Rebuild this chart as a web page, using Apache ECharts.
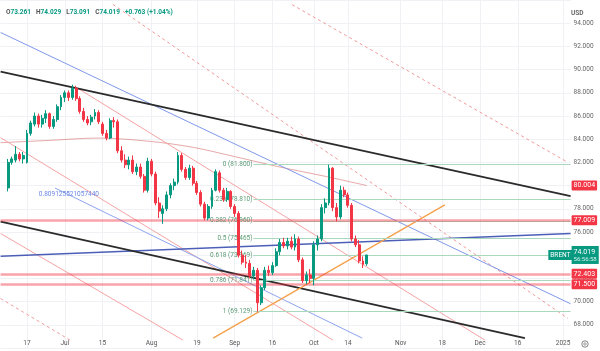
<!DOCTYPE html>
<html><head><meta charset="utf-8">
<script src="https://cdn.jsdelivr.net/npm/echarts@6/dist/echarts.min.js"></script>
<style>html,body{margin:0;padding:0;background:#fff}#c{width:600px;height:351px}</style>
</head><body><div id="c"></div>
<script>
// ---------- data ----------
const firstCategory = '2024-06-06';   // first weekday slot on the axis
const categoryCount = 152;
const firstCandle = '2024-06-10';
// [open, high, low, close]
const ohlc = [
[79.8,82.3,79.5,82.0],[82.0,82.5,81.8,82.3],[82.2,83.4,82.0,82.7],[82.7,82.9,82.1,82.3],[82.3,82.9,81.9,82.6],
[82.0,84.8,81.9,84.5],[84.5,85.6,84.3,85.4],[85.3,86.3,85.1,86.0],[86.0,86.2,85.0,85.3],[85.3,86.1,85.0,85.8],
[85.8,86.5,85.4,86.2],[86.2,86.3,84.9,85.1],[85.1,86.0,84.9,85.7],[85.7,87.0,85.5,86.8],[86.8,87.8,86.5,87.6],
[87.6,88.2,87.2,88.0],[88.0,88.2,87.3,87.6],[87.6,88.7,87.4,88.4],[88.4,88.6,87.3,87.5],[87.5,87.7,86.2,86.4],
[86.4,86.7,85.5,85.7],[85.7,86.0,85.2,85.4],[85.5,86.1,85.2,85.9],[86.0,86.6,85.7,86.3],[86.3,86.5,85.3,85.5],
[85.3,85.5,84.3,84.5],[84.5,84.8,83.9,84.1],[84.1,85.8,84.0,85.6],[85.6,85.9,85.0,85.5],[85.5,85.7,82.8,83.0],
[83.0,83.4,82.0,82.2],[82.2,82.7,81.5,81.8],[81.8,82.5,81.4,82.2],[82.2,82.6,81.0,81.2],[81.2,81.9,80.9,81.6],
[81.6,81.9,80.6,80.8],[80.8,81.0,79.4,79.6],[79.6,82.4,79.4,82.1],[82.1,82.3,80.8,81.0],[81.0,81.2,78.3,78.5],
[78.5,79.0,77.2,77.8],[77.6,78.3,76.7,78.0],[78.0,79.5,77.8,79.2],[79.2,80.2,78.9,80.0],[80.0,80.6,79.6,80.3],
[80.3,82.9,80.1,82.6],[82.6,82.8,81.2,81.4],[81.4,81.6,80.5,80.7],[80.7,81.8,80.5,81.5],[81.5,81.7,80.0,80.2],
[80.2,80.4,79.2,79.4],[79.4,79.6,78.2,78.4],[78.4,78.6,77.0,77.2],[77.2,78.4,77.0,78.2],[78.2,79.8,78.0,79.6],
[79.6,81.4,79.5,81.2],[81.1,81.3,79.4,79.6],[79.6,79.8,78.6,78.8],[78.8,79.8,78.6,79.5],[79.5,79.6,78.0,78.2],
[78.2,78.4,77.3,77.6],[77.6,77.8,73.8,74.0],[74.0,74.4,73.2,73.4],[73.4,74.0,72.9,73.3],[73.3,73.6,72.0,72.2],
[72.2,73.0,71.9,72.7],[72.7,72.9,69.129,69.9],[69.9,71.4,69.7,71.2],[71.2,73.0,71.0,72.7],[72.7,73.1,72.2,72.5],
[72.5,73.4,72.3,73.1],[73.1,74.6,73.0,74.3],[74.3,75.4,74.0,75.1],[75.1,75.5,74.6,74.8],[74.8,75.5,74.5,75.2],
[75.2,75.6,74.5,74.7],[74.7,75.8,74.4,75.4],[75.4,75.6,73.4,73.6],[73.6,73.8,71.6,71.8],[71.8,72.6,71.5,72.3],
[72.3,72.8,71.6,72.0],[72.0,75.2,71.4,74.9],[74.9,75.7,74.4,75.4],[75.4,78.4,75.2,78.1],[78.1,78.9,77.6,78.5],
[78.5,81.8,78.3,81.5],[81.5,81.6,77.8,78.1],[78.1,78.5,76.9,77.3],[77.3,80.0,77.1,79.6],[79.6,79.9,79.0,79.2],
[79.2,79.4,78.1,78.3],[78.3,78.5,75.2,75.4],[75.4,75.7,74.7,74.9],[74.9,75.3,73.3,73.5],[73.5,73.9,72.9,73.2],
[73.261,74.029,73.091,74.019]
];
// moving average samples [slot, price]
const maLine = [[0,83.7],[13,83.9],[26,84.1],[40,83.8],[51,83.3],[62,82.5],[74,81.6],[86,80.8],[97,80.004]];
// drawn trend lines: [slot, price] endpoints
const blackTop = [[0,89.83],[151,79.1]];
const blackBottom = [[0,76.9],[138.9,66.85]];
const blueFlat = [[0,73.91],[151,75.87]];
const blueUpper = [[0,93.2],[151,69.81]];
const blueLower = [[14.4,79.79],[95.8,66.85]];
const orangeRay = [[56.3,66.85],[117.7,78.34]];
const pinkSolid1 = [[20.5,88.38],[128.3,66.68]];
const pinkSolid2 = [[0,84.13],[88.05,66.68]];
const pinkSolid3 = [[0,75.87],[48.3,66.68]];
const pinkDash1 = [[29.77,95.62],[150.3,68.55]];
const pinkDash2 = [[77.2,95.6],[150.3,82.0]];
const pinkDash3 = [[0,70.26],[18.4,66.68]];
// horizontal levels
const redLevels = [77.009, 72.403, 71.500];
const maLast = 80.004;
const lastPrice = 74.019;
const countdown = '56:56:58';
// fibonacci retracement
const fibRatios = ['0','0.236','0.382','0.5','0.618','0.786','1'];
const fibValues = [81.800, 78.810, 76.960, 75.465, 73.969, 71.841, 69.129];
const fibStartSlot = 67;
const blueNote = {slot:18.1, price:79.28, text:'0.809125521057440'};
const xLabels = {'2024-06-17':'17','2024-07-01':'Jul','2024-07-15':'15','2024-08-01':'Aug','2024-08-19':'19',
 '2024-09-02':'Sep','2024-09-16':'16','2024-10-01':'Oct','2024-10-14':'14','2024-11-01':'Nov','2024-11-18':'18',
 '2024-12-02':'Dec','2024-12-16':'16','2025-01-01':'2025'};
const header = {O:'73.261',H:'74.029',L:'73.091',C:'74.019',chg:'+0.763 (+1.04%)'};
const priceMin = 66, priceMax = 96, priceStep = 2;

// ---------- build ----------
function fmt(d){return d.toISOString().slice(0,10);}
const cats = [];
let d = new Date(firstCategory+'T00:00:00Z');
while (cats.length < categoryCount) { const w=d.getUTCDay(); if (w!==0&&w!==6) cats.push(fmt(d)); d.setUTCDate(d.getUTCDate()+1); }
const c0 = cats.indexOf(firstCandle);
const candleData = cats.map((c,i)=>{ const r = ohlc[i-c0]; return r ? [r[0],r[3],r[2],r[1]] : '-'; });

const GREEN='#089981', RED='#f23645';
const FONT='Roboto, "Noto Sans", sans-serif';
const isLbl = (i,v)=> xLabels[v]!==undefined;
const NONE='rgba(0,0,0,0)';

function seg(data, color, width, type){
  return {type:'line', xAxisIndex:1, yAxisIndex:0, data, symbol:'none', silent:true, clip:true,
    lineStyle:{color, width, type:type||'solid'}, z:3, animation:false};
}
const series = [];
series.push(seg(maLine,'rgba(214,110,110,0.6)',1));
series[0].smooth = 0.3;
series.push(seg(pinkSolid1,'#f5a3a3',1));
series.push(seg(pinkSolid2,'#f5a3a3',1));
series.push(seg(pinkSolid3,'#f5a3a3',1));
series.push(seg(pinkDash1,'#f19a9a',1,[3,3]));
series.push(seg(pinkDash2,'#f19a9a',1,[3,3]));
series.push(seg(pinkDash3,'#f19a9a',1,[3,3]));
series.push(seg(blueUpper,'#7f98ea',1));
series.push(seg(blueLower,'#8ea5f0',1));
series.push(seg(blueFlat,'#4c5fb8',1.3));
series.push(seg(blackTop,'#2b2b2b',1.8));
series.push(seg(blackBottom,'#2b2b2b',1.8));
series.push(seg(orangeRay,'#f5a04a',1.3));

// fib lines
series.push({type:'line', xAxisIndex:1, yAxisIndex:0, data:[], symbol:'none', animation:false,
  markLine:{silent:true, symbol:'none', animation:false,
    data: fibValues.map((v,i)=>[
      {coord:[fibStartSlot,v], lineStyle:{color:'#a9d8bc',width:1,type:'solid'},
       label:{show:true, position:'start', distance:1, formatter: fibRatios[i]+' ('+v.toFixed(3)+')',
         color:'#5b9a74', fontSize:6.5, fontFamily:FONT, padding:[0,0,9,0]}},
      {coord:[151,v]}])
  }});
// red horizontal levels + right labels
const rightLbl = (txt,bg)=>({show:true, position:'end', distance:1, formatter:txt, color:'#fff', backgroundColor:bg,
   fontSize:7, fontFamily:FONT, padding:[2,2,1,2], borderRadius:1});
series.push({type:'line', xAxisIndex:1, yAxisIndex:0, data:[], symbol:'none', animation:false,
  markLine:{silent:true, symbol:'none', animation:false, data:[
    ...redLevels.map(v=>({yAxis:v, lineStyle:{color:'rgba(242,54,69,0.45)',width:2.5,type:'solid'}, label:rightLbl(v.toFixed(3),RED)})),
    {yAxis:maLast, lineStyle:{color:NONE,width:0}, label:rightLbl(maLast.toFixed(3),RED)},
    {yAxis:lastPrice, lineStyle:{color:NONE,width:0}, label:{show:true, position:'end', distance:1,
       formatter:'{p|'+lastPrice.toFixed(3)+'}\n{t|'+countdown+'}', backgroundColor:GREEN, padding:[2,2,1,2],
       rich:{p:{color:'#fff',fontSize:7,fontFamily:FONT,lineHeight:8},t:{color:'#d6f2ea',fontSize:6,fontFamily:FONT,lineHeight:7}}}}
  ]},
  markPoint:{silent:true, animation:false, symbolSize:0, data:[
    {coord:[148.3,lastPrice], label:{show:true, position:'inside', formatter:'BRENT', color:'#fff', backgroundColor:GREEN,
       fontSize:6.5, fontFamily:FONT, padding:[2,2,1,2]}},
    {coord:[blueNote.slot,blueNote.price], label:{show:true, position:'inside', formatter:blueNote.text, color:'#6a86e6',
       fontSize:6.5, fontFamily:FONT}}
  ]}
});
// candles
series.push({type:'candlestick', xAxisIndex:0, yAxisIndex:0, data:candleData, barWidth:'64%', z:5, animation:false,
  itemStyle:{color:GREEN, color0:RED, borderColor:GREEN, borderColor0:RED, borderWidth:1}});

const option = {
  animation:false,
  backgroundColor:'#fff',
  title:[{left:6, top:3, padding:0, text:'{k|O}{v|'+header.O+'} {k|H}{v|'+header.H+'} {k|L}{v|'+header.L+'} {k|C}{v|'+header.C+'} {v|'+header.chg+'}',
     textStyle:{rich:{k:{color:'#555',fontSize:6.5,fontFamily:FONT},v:{color:GREEN,fontSize:6.5,fontFamily:FONT}}}},
     {left:571, top:4, padding:0, text:'{u|USD}     {a|▾}', textStyle:{rich:{u:{color:'#666',fontSize:6.5,fontFamily:FONT},a:{color:'#888',fontSize:6,fontFamily:'DejaVu Sans'}}}}],
  graphic:[{type:'circle', shape:{cx:585, cy:344, r:3.2}, style:{fill:'none', stroke:'#888', lineWidth:1}, silent:true},
           {type:'circle', shape:{cx:585, cy:344, r:1.2}, style:{fill:'none', stroke:'#888', lineWidth:0.8}, silent:true}],
  // pane maps 66..96 with 11.75 px per unit; x labels sit inside bottom strip
  grid:{left:0.6, right:29.4, top:-4.5, bottom:3, containLabel:false},
  xAxis:[
    {type:'category', data:cats, boundaryGap:false,
     axisLine:{show:false}, axisTick:{show:false},
     axisLabel:{interval:isLbl, formatter:v=>xLabels[v]||'', color:'#555', fontSize:6.5, fontFamily:FONT, margin:-8},
     splitLine:{show:true, interval:isLbl, lineStyle:{color:'#f0f1f4',width:1}}},
    {type:'value', min:0, max:categoryCount-1, show:false}
  ],
  yAxis:[{type:'value', position:'right', min:priceMin, max:priceMax, interval:priceStep,
     axisLine:{show:false}, axisTick:{show:false},
     axisLabel:{color:'#666', fontSize:6.5, fontFamily:FONT, margin:3,
       formatter:v=>(v>=68 && v<=94)? v.toFixed(3):''},
     splitLine:{show:true, lineStyle:{color:'#f0f1f4',width:1}}}],
  series
};
const chart = echarts.init(document.getElementById('c'), null, {renderer:'canvas'});
chart.setOption(option);
</script></body></html>
